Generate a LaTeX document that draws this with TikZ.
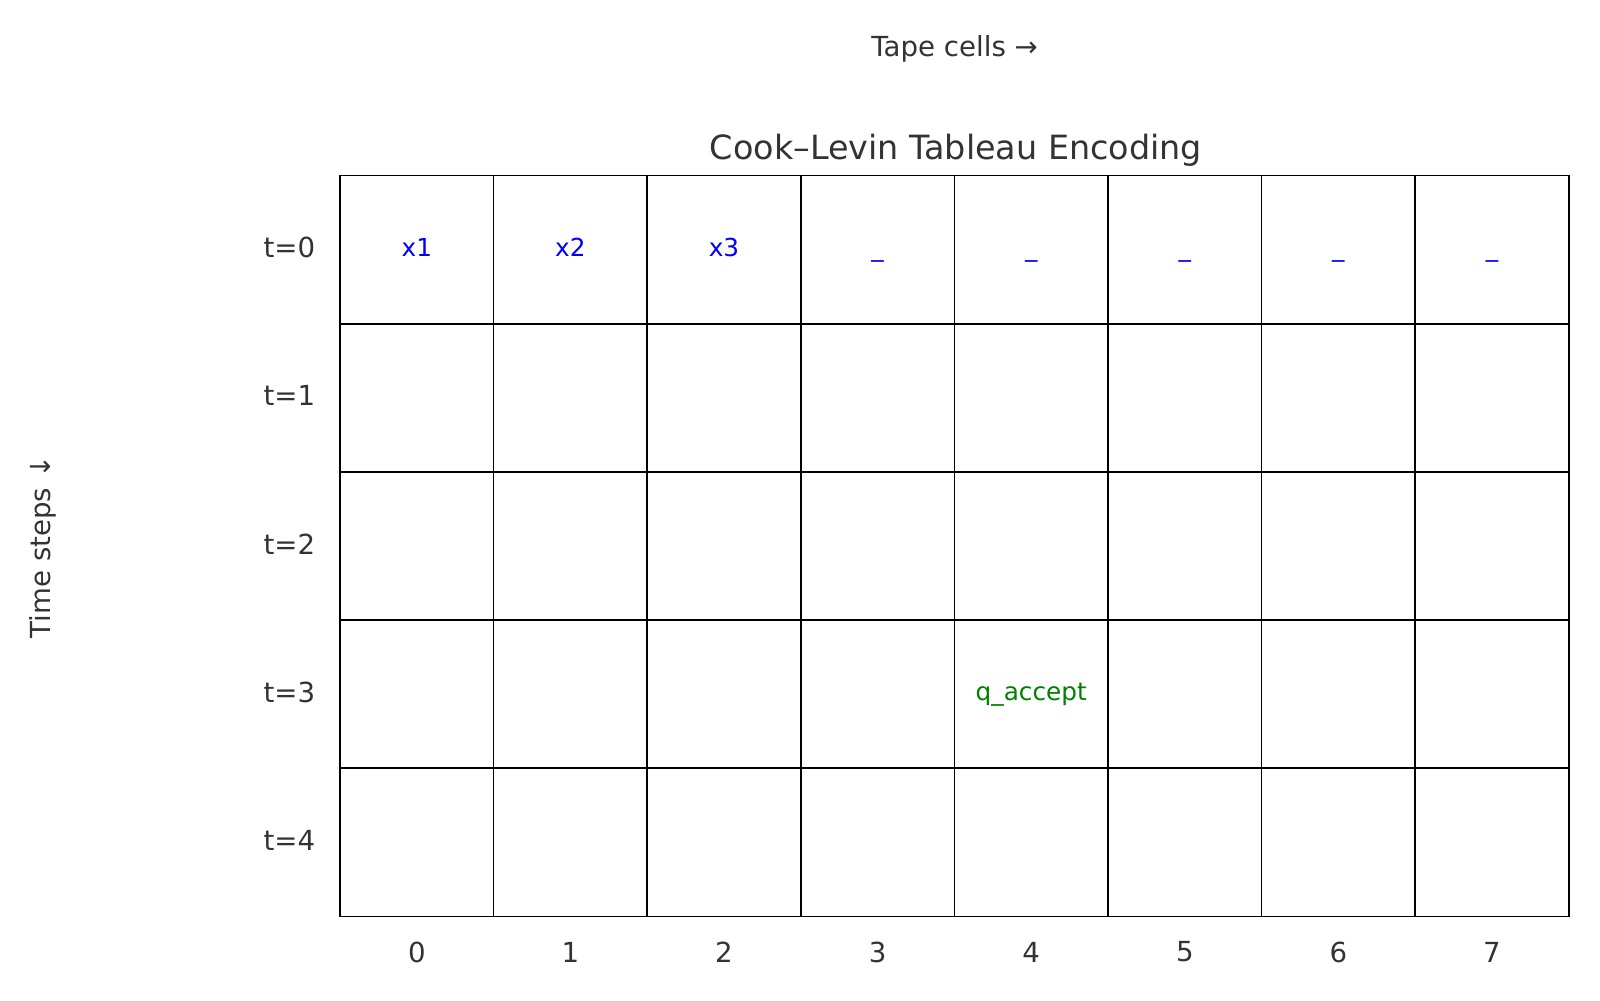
\documentclass[tikz,border=0pt]{standalone}
\usepackage{fontspec}
\setmainfont{DejaVu Sans}
\definecolor{txt}{HTML}{333333}
\definecolor{symblue}{HTML}{0000FF}
\definecolor{symgreen}{HTML}{008000}
\begin{document}
\begin{tikzpicture}[x=0.485pt,y=-0.485pt,
  cell/.style={draw=black, line width=0.8pt, minimum width=74.5pt, minimum height=71.9pt, inner sep=0pt},
  sym/.style={inner sep=0pt, text height=8pt, text depth=1.7pt, font=\fontsize{12}{14}\selectfont},
  lab/.style={inner sep=0pt, text=txt, font=\fontsize{13.4}{15}\selectfont},
  ttl/.style={inner sep=0pt, text=txt, font=\fontsize{16.2}{19}\selectfont}]
\useasboundingbox (0,0) rectangle (1600,1000);
% grid cells
\foreach \r in {0,...,4}{
  \foreach \c in {0,...,7}{
    \node[cell] (cell-\r-\c) at ({416.8+153.6*\c},{249.6+148.2*\r}) {};
  }
}
% cell symbols
\node[sym, text=symblue] (s00) at (cell-0-0) {x1};
\node[sym, text=symblue] (s01) at (cell-0-1) {x2};
\node[sym, text=symblue] (s02) at (cell-0-2) {x3};
\foreach \c in {3,...,7}{
  \node[sym, text=symblue] (s0\c) at (cell-0-\c) {\_};
}
\node[sym, text=symgreen] (s34) at (cell-3-4) {q\_accept};
% row labels
\foreach \r in {0,...,4}{
  \node[lab, anchor=east] (row\r) at (315.5,{247.6+148.2*\r}) {t=\r};
}
% column labels
\foreach \c in {0,...,7}{
  \node[lab] (col\c) at ({416.8+153.6*\c},952) {\c};
}
% titles
\node[ttl, anchor=base] (title) at (956,159) {Cook–Levin Tableau Encoding};
\node[lab, anchor=base] (xlab) at (954.6,56.5) {Tape cells →};
\node[lab, rotate=90] (ylab) at (43,547) {Time steps ↓};
\end{tikzpicture}
\end{document}
